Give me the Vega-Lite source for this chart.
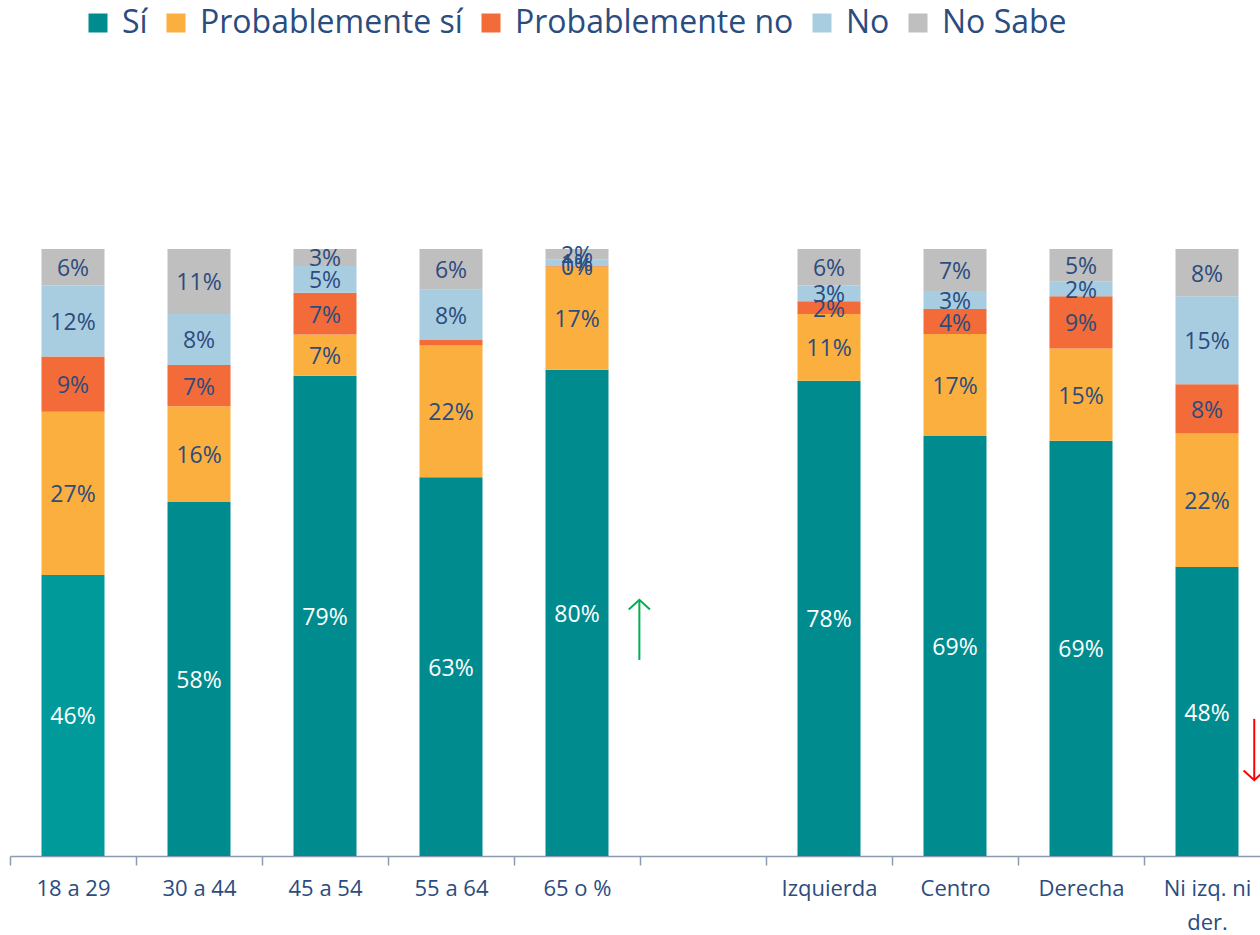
{
  "$schema": "https://vega.github.io/schema/vega-lite/v6.json",
  "width": 1250,
  "height": 607,
  "autosize": {"type": "none"},
  "padding": {"left": 10, "top": 249, "right": 0, "bottom": 79},
  "background": "white",
  "config": {
    "view": {"stroke": null},
    "font": "Open Sans",
    "text": {"font": "Open Sans"}
  },
  "data": {"values": [
    {"cat": "18 a 29", "resp": "Sí", "o": 1, "v": 46.3, "label": "46%"},
    {"cat": "18 a 29", "resp": "Probablemente sí", "o": 2, "v": 26.9, "label": "27%"},
    {"cat": "18 a 29", "resp": "Probablemente no", "o": 3, "v": 9.1, "label": "9%"},
    {"cat": "18 a 29", "resp": "No", "o": 4, "v": 11.7, "label": "12%"},
    {"cat": "18 a 29", "resp": "No Sabe", "o": 5, "v": 6.0, "label": "6%"},
    {"cat": "30 a 44", "resp": "Sí", "o": 1, "v": 58.3, "label": "58%"},
    {"cat": "30 a 44", "resp": "Probablemente sí", "o": 2, "v": 15.8, "label": "16%"},
    {"cat": "30 a 44", "resp": "Probablemente no", "o": 3, "v": 6.8, "label": "7%"},
    {"cat": "30 a 44", "resp": "No", "o": 4, "v": 8.4, "label": "8%"},
    {"cat": "30 a 44", "resp": "No Sabe", "o": 5, "v": 10.7, "label": "11%"},
    {"cat": "45 a 54", "resp": "Sí", "o": 1, "v": 79.1, "label": "79%"},
    {"cat": "45 a 54", "resp": "Probablemente sí", "o": 2, "v": 6.8, "label": "7%"},
    {"cat": "45 a 54", "resp": "Probablemente no", "o": 3, "v": 6.9, "label": "7%"},
    {"cat": "45 a 54", "resp": "No", "o": 4, "v": 4.4, "label": "5%"},
    {"cat": "45 a 54", "resp": "No Sabe", "o": 5, "v": 2.8, "label": "3%"},
    {"cat": "55 a 64", "resp": "Sí", "o": 1, "v": 62.4, "label": "63%"},
    {"cat": "55 a 64", "resp": "Probablemente sí", "o": 2, "v": 21.7, "label": "22%"},
    {"cat": "55 a 64", "resp": "Probablemente no", "o": 3, "v": 1.0, "label": ""},
    {"cat": "55 a 64", "resp": "No", "o": 4, "v": 8.2, "label": "8%"},
    {"cat": "55 a 64", "resp": "No Sabe", "o": 5, "v": 6.7, "label": "6%"},
    {"cat": "65 o %", "resp": "Sí", "o": 1, "v": 80.1, "label": "80%"},
    {"cat": "65 o %", "resp": "Probablemente sí", "o": 2, "v": 17.0, "label": "17%"},
    {"cat": "65 o %", "resp": "Probablemente no", "o": 3, "v": 0.2, "label": "0%"},
    {"cat": "65 o %", "resp": "No", "o": 4, "v": 1.0, "label": "1%"},
    {"cat": "65 o %", "resp": "No Sabe", "o": 5, "v": 1.7, "label": "2%"},
    {"cat": "Izquierda", "resp": "Sí", "o": 1, "v": 78.3, "label": "78%"},
    {"cat": "Izquierda", "resp": "Probablemente sí", "o": 2, "v": 11.0, "label": "11%"},
    {"cat": "Izquierda", "resp": "Probablemente no", "o": 3, "v": 2.1, "label": "2%"},
    {"cat": "Izquierda", "resp": "No", "o": 4, "v": 2.6, "label": "3%"},
    {"cat": "Izquierda", "resp": "No Sabe", "o": 5, "v": 6.0, "label": "6%"},
    {"cat": "Centro", "resp": "Sí", "o": 1, "v": 69.2, "label": "69%"},
    {"cat": "Centro", "resp": "Probablemente sí", "o": 2, "v": 16.8, "label": "17%"},
    {"cat": "Centro", "resp": "Probablemente no", "o": 3, "v": 4.1, "label": "4%"},
    {"cat": "Centro", "resp": "No", "o": 4, "v": 3.0, "label": "3%"},
    {"cat": "Centro", "resp": "No Sabe", "o": 5, "v": 6.9, "label": "7%"},
    {"cat": "Derecha", "resp": "Sí", "o": 1, "v": 68.4, "label": "69%"},
    {"cat": "Derecha", "resp": "Probablemente sí", "o": 2, "v": 15.2, "label": "15%"},
    {"cat": "Derecha", "resp": "Probablemente no", "o": 3, "v": 8.6, "label": "9%"},
    {"cat": "Derecha", "resp": "No", "o": 4, "v": 2.5, "label": "2%"},
    {"cat": "Derecha", "resp": "No Sabe", "o": 5, "v": 5.3, "label": "5%"},
    {"cat": "Ni izq. ni der.", "resp": "Sí", "o": 1, "v": 47.6, "label": "48%"},
    {"cat": "Ni izq. ni der.", "resp": "Probablemente sí", "o": 2, "v": 22.0, "label": "22%"},
    {"cat": "Ni izq. ni der.", "resp": "Probablemente no", "o": 3, "v": 8.1, "label": "8%"},
    {"cat": "Ni izq. ni der.", "resp": "No", "o": 4, "v": 14.5, "label": "15%"},
    {"cat": "Ni izq. ni der.", "resp": "No Sabe", "o": 5, "v": 7.8, "label": "8%"}
  ]},
  "encoding": {
    "x": {
      "field": "cat",
      "type": "nominal",
      "title": null,
      "scale": {
        "domain": ["18 a 29", "30 a 44", "45 a 54", "55 a 64", "65 o %", " ", "Izquierda", "Centro", "Derecha", "Ni izq. ni der."],
        "range": [0, 1260],
        "paddingInner": 0.5,
        "paddingOuter": 0.25
      },
      "axis": {
        "labelAngle": 0,
        "labelFont": "Open Sans",
        "labelFontSize": 22,
        "labelColor": "#2B4C7E",
        "labelPadding": 13,
        "labelLineHeight": 34,
        "labelOffset": 63,
        "labelExpr": "datum.value == 'Ni izq. ni der.' ? ['Ni izq. ni', 'der.'] : datum.value",
        "domainColor": "#8C9AB2",
        "domainWidth": 1.5,
        "tickColor": "#8C9AB2",
        "tickWidth": 1.5,
        "tickSize": 9,
        "tickOffset": -63,
        "grid": false
      }
    }
  },
  "layer": [
    {
      "mark": {"type": "bar"},
      "encoding": {
        "y": {"field": "v", "type": "quantitative", "stack": "zero", "scale": {"domain": [0, 100], "nice": false}, "axis": null},
        "order": {"field": "o", "type": "quantitative", "sort": "ascending"},
        "color": {
          "condition": {"test": "datum.cat === '18 a 29' && datum.resp === 'Sí'", "value": "#009A9A"},
          "field": "resp",
          "type": "nominal",
          "scale": {
            "domain": ["Sí", "Probablemente sí", "Probablemente no", "No", "No Sabe"],
            "range": ["#008C8F", "#FBAF3F", "#F26B38", "#A8CCE0", "#BFBFBF"]
          },
          "legend": {
            "title": null,
            "orient": "none",
            "direction": "horizontal",
            "legendX": 72,
            "legendY": -242,
            "symbolType": "square",
            "symbolSize": 361,
            "symbolStrokeWidth": 0,
            "labelFont": "Open Sans",
            "labelFontSize": 32,
            "labelColor": "#2B4C7E",
            "labelOffset": 8,
            "columnPadding": 12,
            "labelLimit": 400
          }
        }
      }
    },
    {
      "mark": {"type": "text", "font": "Open Sans", "fontSize": 23, "baseline": "middle", "align": "center", "dy": 2},
      "encoding": {
        "y": {"field": "v", "type": "quantitative", "stack": "zero", "bandPosition": 0.5},
        "order": {"field": "o", "type": "quantitative", "sort": "ascending"},
        "text": {"field": "label"},
        "color": {
          "condition": {"test": "datum.resp === 'Sí'", "value": "#FFFFFF"},
          "value": "#2B4C7E"
        }
      }
    },
    {
      "data": {"values": [{"cat": "65 o %", "y1": 32.3, "y2": 42.2}]},
      "mark": {"type": "rule", "color": "#00B050", "strokeWidth": 2},
      "encoding": {
        "x": {"field": "cat", "type": "nominal", "bandPosition": 1.49},
        "y": {"field": "y1", "type": "quantitative"},
        "y2": {"field": "y2"}
      }
    },
    {
      "data": {"values": [{"cat": "65 o %", "y1": 32.3, "y2": 42.2}]},
      "mark": {"type": "point", "shape": "M-1,0.9L0,0L1,0.9", "size": 450, "filled": false, "stroke": "#00B050", "strokeWidth": 2, "opacity": 1},
      "encoding": {
        "x": {"field": "cat", "type": "nominal", "bandPosition": 1.49},
        "y": {"field": "y2", "type": "quantitative"}
      }
    },
    {
      "data": {"values": [{"cat": "Ni izq. ni der.", "y1": 22.6, "y2": 12.5}]},
      "mark": {"type": "rule", "color": "#FF0000", "strokeWidth": 2},
      "encoding": {
        "x": {"field": "cat", "type": "nominal", "bandPosition": 1.25},
        "y": {"field": "y1", "type": "quantitative"},
        "y2": {"field": "y2"}
      }
    },
    {
      "data": {"values": [{"cat": "Ni izq. ni der.", "y1": 22.6, "y2": 12.5}]},
      "mark": {"type": "point", "shape": "M-1,-0.9L0,0L1,-0.9", "size": 450, "filled": false, "stroke": "#FF0000", "strokeWidth": 2, "opacity": 1},
      "encoding": {
        "x": {"field": "cat", "type": "nominal", "bandPosition": 1.25},
        "y": {"field": "y2", "type": "quantitative"}
      }
    }
  ]
}
